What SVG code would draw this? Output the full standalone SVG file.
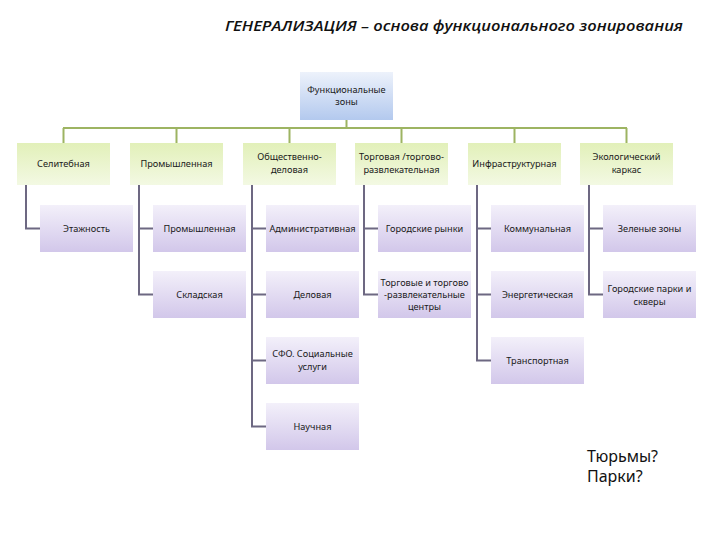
<svg xmlns="http://www.w3.org/2000/svg" width="720" height="540" viewBox="0 0 720 540">
<defs>
<linearGradient id="gBlue" x1="0" y1="0" x2="0" y2="1"><stop offset="0" stop-color="#edf2fb"/><stop offset="1" stop-color="#b3c9ee"/></linearGradient>
<linearGradient id="gGreen" x1="0" y1="0" x2="0" y2="1"><stop offset="0" stop-color="#e2f0b9"/><stop offset="1" stop-color="#f3f9e3"/></linearGradient>
<linearGradient id="gPurple" x1="0" y1="0" x2="0" y2="1"><stop offset="0" stop-color="#f3f0fa"/><stop offset="1" stop-color="#d2c7ea"/></linearGradient>
<style>
.t{font-family:"Noto Sans","Open Sans","DejaVu Sans",sans-serif;font-size:9.2px;fill:#1a1a1a;text-anchor:middle}
.root{fill:url(#gBlue)}
.l1{fill:url(#gGreen)}
.l2{fill:url(#gPurple)}
.cg{stroke:#9db462;stroke-width:2;fill:none}
.cp{stroke:#6d6882;stroke-width:2;fill:none}
</style>
</defs>
<rect width="720" height="540" fill="#ffffff"/>
<text x="454" y="31" font-family="'Open Sans','Noto Sans',sans-serif" font-size="14" font-style="italic" font-weight="600" fill="#111" text-anchor="middle" textLength="458" lengthAdjust="spacingAndGlyphs">ГЕНЕРАЛИЗАЦИЯ – основа функционального зонирования</text>

<g id="connectors">
<path class="cg" d="M346.5 120 V128 M63 128 H627 M63.5 128 V143 M176.5 128 V143 M289.5 128 V143 M401.5 128 V143 M514.5 128 V143 M626.5 128 V143"/>
<path class="cp" d="M26 185 V228.5 H40"/>
<path class="cp" d="M139 185 V294.5 H153 M139 228.5 H153"/>
<path class="cp" d="M252 185 V426.5 H266 M252 228.5 H266 M252 294.5 H266 M252 360.5 H266"/>
<path class="cp" d="M364 185 V294.5 H378 M364 228.5 H378"/>
<path class="cp" d="M477 185 V360.5 H491 M477 228.5 H491 M477 294.5 H491"/>
<path class="cp" d="M589 185 V294.5 H603 M589 228.5 H603"/>
</g>

<g id="n-root"><rect class="root" x="300" y="72" width="93" height="48"/><text class="t" x="346.5" y="93">Функциональные</text><text class="t" x="346.5" y="105">зоны</text></g>

<g id="n-selit"><rect class="l1" x="17" y="143" width="93" height="42"/><text class="t" x="63.5" y="167">Селитебная</text></g>
<g id="n-prom"><rect class="l1" x="130" y="143" width="93" height="42"/><text class="t" x="176.5" y="167">Промышленная</text></g>
<g id="n-obsh"><rect class="l1" x="243" y="143" width="93" height="42"/><text class="t" x="289.5" y="160">Общественно-</text><text class="t" x="289.5" y="173">деловая</text></g>
<g id="n-torg"><rect class="l1" x="355" y="143" width="93" height="42"/><text class="t" x="401.5" y="160">Торговая /торгово-</text><text class="t" x="401.5" y="173">развлекательная</text></g>
<g id="n-infra"><rect class="l1" x="468" y="143" width="93" height="42"/><text class="t" x="514.5" y="167">Инфраструктурная</text></g>
<g id="n-eco"><rect class="l1" x="580" y="143" width="93" height="42"/><text class="t" x="626.5" y="160">Экологический</text><text class="t" x="626.5" y="173">каркас</text></g>

<g id="n-etazh"><rect class="l2" x="40" y="205" width="93" height="47"/><text class="t" x="86.5" y="232">Этажность</text></g>
<g id="n-prom2"><rect class="l2" x="153" y="205" width="93" height="47"/><text class="t" x="199.5" y="232">Промышленная</text></g>
<g id="n-sklad"><rect class="l2" x="153" y="271" width="93" height="47"/><text class="t" x="199.5" y="298">Складская</text></g>
<g id="n-admin"><rect class="l2" x="266" y="205" width="93" height="47"/><text class="t" x="312.5" y="232">Административная</text></g>
<g id="n-delov"><rect class="l2" x="266" y="271" width="93" height="47"/><text class="t" x="312.5" y="298">Деловая</text></g>
<g id="n-sfo"><rect class="l2" x="266" y="337" width="93" height="47"/><text class="t" x="312.5" y="357">СФО. Социальные</text><text class="t" x="312.5" y="370">услуги</text></g>
<g id="n-nauch"><rect class="l2" x="266" y="403" width="93" height="47"/><text class="t" x="312.5" y="430">Научная</text></g>
<g id="n-rynki"><rect class="l2" x="378" y="205" width="93" height="47"/><text class="t" x="424.5" y="232">Городские рынки</text></g>
<g id="n-tc"><rect class="l2" x="378" y="271" width="93" height="47"/><text class="t" x="424.5" y="286">Торговые и торгово</text><text class="t" x="424.5" y="298">-развлекательные</text><text class="t" x="424.5" y="310">центры</text></g>
<g id="n-komm"><rect class="l2" x="491" y="205" width="93" height="47"/><text class="t" x="537.5" y="232">Коммунальная</text></g>
<g id="n-energ"><rect class="l2" x="491" y="271" width="93" height="47"/><text class="t" x="537.5" y="298">Энергетическая</text></g>
<g id="n-transp"><rect class="l2" x="491" y="337" width="93" height="47"/><text class="t" x="537.5" y="364">Транспортная</text></g>
<g id="n-zel"><rect class="l2" x="603" y="205" width="93" height="47"/><text class="t" x="649.5" y="232">Зеленые зоны</text></g>
<g id="n-parki"><rect class="l2" x="603" y="271" width="93" height="47"/><text class="t" x="649.5" y="292">Городские парки и</text><text class="t" x="649.5" y="305">скверы</text></g>

<text x="587" y="462" font-family="'Noto Sans','Open Sans',sans-serif" font-size="16" fill="#111">Тюрьмы?</text>
<text x="587" y="482" font-family="'Noto Sans','Open Sans',sans-serif" font-size="16" fill="#111">Парки?</text>
</svg>
